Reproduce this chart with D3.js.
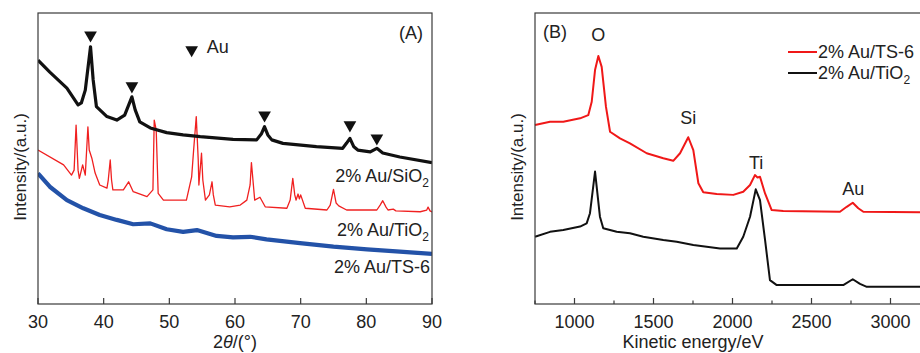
<!DOCTYPE html>
<html>
<head>
<meta charset="utf-8">
<script src="https://cdn.jsdelivr.net/npm/d3@7"></script>
<style>
  html, body { margin: 0; padding: 0; background: #fff; }
  svg { display: block; font-family: "Liberation Sans", Arial, Helvetica, sans-serif; }
  text { fill: #222; }
</style>
</head>
<body>
<svg id="chart" width="920" height="353"></svg>
<script>
// ---------- Panel A: XRD patterns (2θ in degrees, intensity in a.u.) ----------
const xrdTicks = [30, 40, 50, 60, 70, 80, 90];

const xrdSiO2 = [
  [30.0, 83.8], [31.8, 79.7], [34.4, 74.2], [36.1, 68.4], [36.6, 69.1], [37.2, 73.5],
  [38.0, 88.4], [38.4, 77.0], [38.9, 67.8], [40.5, 64.4], [42.0, 63.2], [43.2, 64.9],
  [44.3, 71.2], [44.8, 66.7], [45.5, 62.6], [47.1, 60.5], [49.6, 58.9], [52.1, 58.1],
  [54.7, 57.5], [59.7, 56.6], [63.3, 56.4], [64.0, 58.4], [64.5, 60.9], [65.0, 58.1],
  [65.6, 56.4], [67.3, 55.2], [72.4, 54.1], [76.4, 53.5], [77.0, 55.3], [77.5, 56.9],
  [78.1, 54.0], [78.7, 52.9], [80.6, 52.3], [81.6, 53.5], [82.5, 51.9], [85.1, 50.5],
  [90.0, 48.6]
];

const xrdTiO2 = [
  [30.0, 52.9], [33.9, 47.8], [35.1, 44.3], [35.5, 46.0], [35.8, 61.5], [36.1, 46.0],
  [36.3, 43.2], [36.8, 47.8], [37.2, 44.3], [37.6, 60.9], [37.8, 52.9], [38.2, 50.1],
  [38.7, 45.0], [39.4, 40.9], [40.5, 39.8], [40.7, 42.6], [41.0, 49.5], [41.2, 42.6],
  [41.4, 39.2], [43.0, 39.2], [43.8, 42.0], [44.5, 38.6], [46.6, 36.9], [47.5, 39.2],
  [47.7, 63.2], [48.0, 59.8], [48.3, 38.0], [49.1, 35.7], [52.6, 35.7], [53.4, 43.7],
  [53.7, 52.9], [54.1, 64.4], [54.4, 49.5], [54.5, 40.9], [54.9, 51.8], [55.1, 42.6],
  [55.5, 35.7], [56.1, 37.5], [56.5, 42.0], [56.7, 37.5], [57.0, 34.0], [59.2, 33.4],
  [60.8, 34.0], [61.8, 35.7], [62.3, 40.9], [62.5, 48.6], [62.8, 40.9], [63.0, 35.7],
  [63.8, 36.7], [64.6, 33.4], [67.9, 32.9], [68.4, 35.7], [68.8, 43.2], [69.1, 37.5],
  [69.3, 35.7], [69.6, 37.8], [69.8, 36.1], [70.0, 37.5], [70.7, 32.9], [74.0, 32.3],
  [74.5, 34.0], [75.0, 39.4], [75.4, 34.7], [75.8, 33.7], [77.0, 32.3], [81.6, 32.3],
  [82.1, 34.0], [82.5, 35.5], [83.0, 33.3], [83.3, 32.3], [84.1, 32.6], [84.5, 32.0],
  [88.2, 31.7], [89.2, 32.3], [89.4, 33.3], [89.7, 32.0], [90.0, 31.6]
];

const xrdTS6 = [
  [30.0, 44.9], [31.8, 40.3], [34.4, 35.7], [36.9, 32.9], [39.4, 30.6], [42.0, 28.9],
  [44.5, 27.4], [47.1, 27.7], [49.6, 25.7], [52.1, 24.8], [54.2, 25.4], [57.2, 23.4],
  [59.7, 22.9], [62.3, 23.1], [64.8, 22.2], [69.9, 20.9], [75.0, 19.7], [80.1, 18.8],
  [85.1, 18.0], [90.0, 17.2]
];

// Au reflections marked with ▼ (2θ, marker level)
const auMarkers = [[38.0, 92.4], [44.3, 74.9], [64.5, 64.9], [77.5, 61.5], [81.6, 57.0]];

// ---------- Panel B: Auger spectra (kinetic energy in eV, intensity in a.u.) ----------
const augerTicks = [1000, 1500, 2000, 2500, 3000];
const augerMinor = [750, 1250, 1750, 2250, 2750];

const augerTS6 = [
  [750, 61.5], [845, 62.6], [929, 62.6], [1035, 63.8], [1087, 64.9], [1109, 69.5],
  [1130, 80.4], [1151, 85.2], [1172, 81.5], [1199, 67.8], [1225, 59.2], [1288, 56.9],
  [1351, 55.2], [1457, 51.8], [1562, 50.1], [1625, 49.2], [1668, 51.8], [1720, 57.3],
  [1752, 52.9], [1784, 41.5], [1815, 38.4], [1900, 37.8], [2005, 37.5], [2068, 38.6],
  [2111, 40.9], [2142, 44.3], [2158, 43.5], [2174, 43.7], [2206, 38.0], [2248, 32.3],
  [2321, 32.0], [2680, 31.7], [2723, 33.4], [2761, 34.8], [2796, 32.9], [2828, 31.7],
  [3250, 31.5]
];

const augerTiO2 = [
  [750, 23.1], [845, 24.8], [929, 25.4], [1035, 26.6], [1077, 27.7], [1098, 31.2],
  [1130, 45.5], [1161, 30.0], [1182, 26.0], [1267, 24.8], [1351, 24.3], [1435, 23.1],
  [1562, 22.0], [1647, 21.4], [1752, 20.3], [1921, 19.1], [2027, 19.1], [2068, 23.1],
  [2111, 30.0], [2147, 39.4], [2174, 35.7], [2206, 22.0], [2237, 8.2], [2280, 6.5],
  [2701, 6.5], [2761, 8.5], [2807, 6.9], [2850, 5.9], [3250, 5.9]
];

// Element labels above the Auger peaks (energy, level, text)
const augerPeakLabels = [[1150, 90.5, "O"], [1720, 62.0, "Si"], [2150, 46.5, "Ti"], [2765, 37.5, "Au"]];

// ---------- drawing ----------
const svg = d3.select("#chart");
const frameColor = "#3a3a3a";
const plotTop = 13, plotBottom = 304;

function drawFrame(g, left, right) {
  g.append("rect")
    .attr("x", left).attr("y", plotTop)
    .attr("width", right - left).attr("height", plotBottom - plotTop)
    .attr("fill", "none").attr("stroke", frameColor).attr("stroke-width", 1.2);
}

function bottomAxis(g, x, ticks, minor) {
  const ax = g.append("g").attr("transform", `translate(0,${plotBottom})`);
  ax.selectAll("line.major").data(ticks).join("line")
    .attr("class", "major")
    .attr("x1", d => x(d)).attr("x2", d => x(d))
    .attr("y1", 0).attr("y2", -6)
    .attr("stroke", frameColor).attr("stroke-width", 1.2);
  if (minor) {
    ax.selectAll("line.minor").data(minor).join("line")
      .attr("class", "minor")
      .attr("x1", d => x(d)).attr("x2", d => x(d))
      .attr("y1", 0).attr("y2", -3.5)
      .attr("stroke", frameColor).attr("stroke-width", 1.2);
  }
  ax.selectAll("text").data(ticks).join("text")
    .attr("x", d => x(d)).attr("y", 24)
    .attr("text-anchor", "middle").attr("font-size", 18)
    .text(d => d);
}

// Panel A
const xA = d3.scaleLinear().domain([30, 90]).range([38, 432]);
const yA = d3.scaleLinear().domain([0, 100]).range([plotBottom, plotTop]);
const gA = svg.append("g");
const lineA = d3.line().x(d => xA(d[0])).y(d => yA(d[1]));

const clipA = svg.append("clipPath").attr("id", "clipA");
clipA.append("rect").attr("x", 38).attr("y", plotTop).attr("width", 394).attr("height", plotBottom - plotTop);

const plotA = gA.append("g").attr("clip-path", "url(#clipA)");
plotA.append("path").datum(xrdTS6).attr("d", lineA)
  .attr("fill", "none").attr("stroke", "#2352a8").attr("stroke-width", 4.2).attr("stroke-linejoin", "round");
plotA.append("path").datum(xrdTiO2).attr("d", lineA)
  .attr("fill", "none").attr("stroke", "#f02020").attr("stroke-width", 1.3).attr("stroke-linejoin", "round");
plotA.append("path").datum(xrdSiO2).attr("d", lineA)
  .attr("fill", "none").attr("stroke", "#111").attr("stroke-width", 3.2).attr("stroke-linejoin", "round");

const tri = d3.symbol().type(d3.symbolTriangle).size(70);
plotA.selectAll("path.au").data(auMarkers).join("path")
  .attr("class", "au")
  .attr("transform", d => `translate(${xA(d[0])},${yA(d[1])}) rotate(180)`)
  .attr("d", tri).attr("fill", "#111");

drawFrame(gA, 38, 432);
bottomAxis(gA, xA, xrdTicks, null);

// legend marker for Au
gA.append("path")
  .attr("transform", `translate(${xA(53.4)},${yA(87.3)}) rotate(180)`)
  .attr("d", tri).attr("fill", "#111");
gA.append("text").attr("x", xA(55.7)).attr("y", 53).attr("font-size", 18).text("Au");

gA.append("text").attr("x", 423).attr("y", 39).attr("text-anchor", "end").attr("font-size", 18).text("(A)");

function sampleLabel(g, x, y, main, sub) {
  const t = g.append("text").attr("x", x).attr("y", y).attr("text-anchor", "end").attr("font-size", 18);
  t.append("tspan").text(main);
  if (sub) t.append("tspan").attr("font-size", 12).attr("dy", 5).text(sub);
  return t;
}
sampleLabel(gA, 429, 182, "2% Au/SiO", "2");
sampleLabel(gA, 429, 236, "2% Au/TiO", "2");
sampleLabel(gA, 430, 273, "2% Au/TS-6", null);

gA.append("text")
  .attr("transform", "translate(26,167) rotate(-90)")
  .attr("text-anchor", "middle").attr("font-size", 17)
  .text("Intensity/(a.u.)");

const xtA = gA.append("text").attr("x", xA(60)).attr("y", 348).attr("text-anchor", "middle").attr("font-size", 18);
xtA.append("tspan").text("2");
xtA.append("tspan").attr("font-style", "italic").text("θ");
xtA.append("tspan").text("/(°)");

// Panel B
const xB = d3.scaleLinear().domain([750, 3250]).range([535, 930]);
const yB = d3.scaleLinear().domain([0, 100]).range([plotBottom, plotTop]);
const gB = svg.append("g");
const lineB = d3.line().x(d => xB(d[0])).y(d => yB(d[1]));

gB.append("path").datum(augerTiO2).attr("d", lineB)
  .attr("fill", "none").attr("stroke", "#111").attr("stroke-width", 2).attr("stroke-linejoin", "round");
gB.append("path").datum(augerTS6).attr("d", lineB)
  .attr("fill", "none").attr("stroke", "#f01818").attr("stroke-width", 2).attr("stroke-linejoin", "round");

drawFrame(gB, 535, 930);
bottomAxis(gB, xB, augerTicks, augerMinor);

gB.selectAll("text.peak").data(augerPeakLabels).join("text")
  .attr("class", "peak")
  .attr("x", d => xB(d[0])).attr("y", d => yB(d[1]))
  .attr("text-anchor", "middle").attr("font-size", 18)
  .text(d => d[2]);

gB.append("text").attr("x", 543).attr("y", 38).attr("font-size", 18).text("(B)");

// legend
const legendItems = [["#f01818", "2% Au/TS-6", null, 52], ["#111", "2% Au/TiO", "2", 73]];
legendItems.forEach(([c, main, sub, ly]) => {
  gB.append("line").attr("x1", 788).attr("x2", 817).attr("y1", ly).attr("y2", ly)
    .attr("stroke", c).attr("stroke-width", 2);
  const t = gB.append("text").attr("x", 818).attr("y", ly + 6).attr("font-size", 18);
  t.append("tspan").text(main);
  if (sub) t.append("tspan").attr("font-size", 12).attr("dy", 5).text(sub);
});

gB.append("text")
  .attr("transform", "translate(523,167) rotate(-90)")
  .attr("text-anchor", "middle").attr("font-size", 17)
  .text("Intensity/(a.u.)");

gB.append("text").attr("x", xB(1750)).attr("y", 348).attr("text-anchor", "middle").attr("font-size", 18)
  .text("Kinetic energy/eV");
</script>
</body>
</html>
